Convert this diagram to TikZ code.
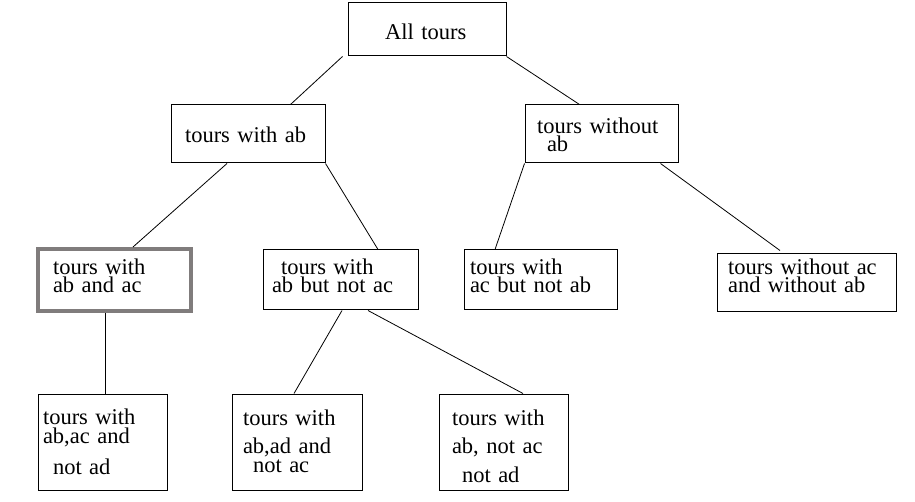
\documentclass[tikz,border=0pt]{standalone}
\usepackage{fontspec}
\setmainfont{Liberation Serif}
\definecolor{framegray}{RGB}{128,124,124}
\tikzset{
  box/.style={draw, line width=1pt, align=left, inner ysep=0pt,
    font=\fontsize{22.5}{17.5}\selectfont},
  edge/.style={line width=0.8pt},
}
\begin{document}
\begin{tikzpicture}[x=1pt, y=-1pt]
\useasboundingbox (0,0) rectangle (915,502);

% racine
\node[box, inner xsep=37pt, text width=84pt, text height=36.3pt, text depth=16.7pt] (all) at (427,29.5) {All tours};

% niveau 1
\node[box, inner xsep=14pt, text width=126pt, text height=37.7pt, text depth=20.3pt] (withab) at (248,134) {tours with ab};
\node[box, inner xsep=12pt, text width=129pt, text height=29pt, text depth=29pt] (withoutab) at (601.5,134) {tours without\\[0.5pt]\hspace*{10pt}ab};

% niveau 2
\node[box, draw=framegray, line width=4pt, inner xsep=15pt, text width=123pt, text height=26pt, text depth=36pt] (abac) at (114.5,280) {tours with\\ab and ac};
\node[box, inner xsep=9pt, text width=137pt, text height=25pt, text depth=35pt] (abnotac) at (340.5,280) {\hspace*{9pt}tours with\\ab but not ac};
\node[box, inner xsep=6pt, text width=141pt, text height=25pt, text depth=35pt] (acnotab) at (540.5,280) {tours with\\ac but not ab};
\node[box, inner xsep=11pt, text width=157pt, text height=21pt, text depth=37pt] (noacnoab) at (806.5,283) {tours without ac\\and without ab};

% niveau 3
\node[box, inner xsep=5pt, text width=119pt, text height=30pt, text depth=66pt] (abacnotad) at (102.5,442) {tours with\\[1.5pt]ab,ac and\\[11.5pt]\hspace*{10pt}not ad};
\node[box, inner xsep=11pt, text width=108pt, text height=31pt, text depth=65pt] (abadnotac) at (297,442) {tours with\\[10.5pt]ab,ad and\\[1.5pt]\hspace*{10pt}not ac};
\node[box, inner xsep=13pt, text width=103pt, text height=31pt, text depth=65pt] (abnotacad) at (503.5,442) {tours with\\[10.5pt]ab, not ac\\[9.5pt]\hspace*{10pt}not ad};

% aretes
\draw[edge] ([xshift=-5pt]all.south west) -- ([xshift=-35pt]withab.north east);
\draw[edge] (all.south east) -- ([xshift=-22pt]withoutab.north);
\draw[edge] ([xshift=-21pt]withab.south) -- ([xshift=18.5pt]abac.north);
\draw[edge] (withab.south east) -- ([xshift=37.5pt]abnotac.north);
\draw[edge] (withoutab.south west) -- ([xshift=-45.5pt]acnotab.north);
\draw[edge] ([xshift=-18pt]withoutab.south east) -- ([xshift=-26.5pt,yshift=3pt]noacnoab.north);
\draw[edge] ([xshift=-9.5pt]abac.south) -- ([xshift=2.5pt]abacnotad.north);
\draw[edge] ([xshift=1.5pt]abnotac.south) -- ([xshift=-3pt]abadnotac.north);
\draw[edge] ([xshift=27.5pt]abnotac.south) -- ([xshift=19.5pt]abnotacad.north);

\end{tikzpicture}
\end{document}
